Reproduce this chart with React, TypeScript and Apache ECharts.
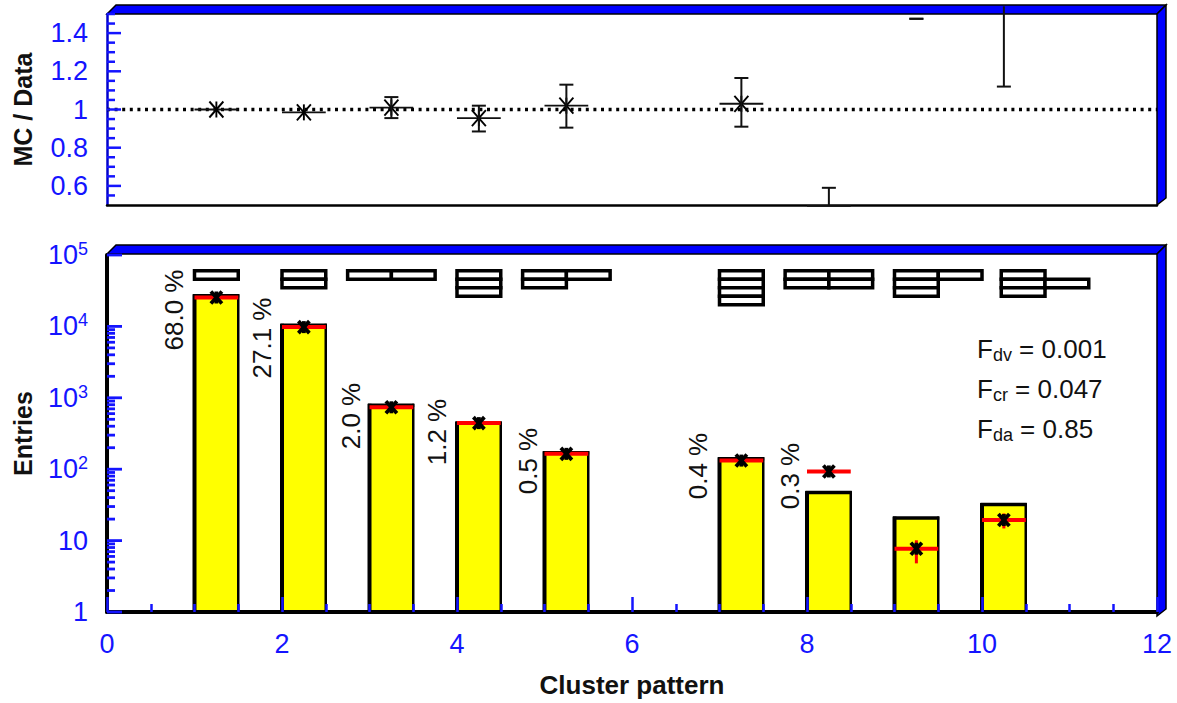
import React, { useEffect, useRef } from "react";
import * as echarts from "echarts";

// ---------- data ----------
const bins = [1, 2, 3, 4, 5, 7, 8, 9, 10];
const mcEntries = [26800, 10400, 785, 442, 170, 140, 47, 20.7, 32];
const dataEntries = [25400, 9770, 736, 442, 164, 132, 93, 7.7, 19.4];
const dataLow = [null, null, null, null, null, null, null, 4.8, 14.8];
const dataHigh = [null, null, null, null, null, null, null, 10.1, 24];

const ratioValues = [1.0, 0.985, 1.01, 0.955, 1.02, 1.03, 0.495, null, null];
const ratioLow = [null, null, 0.955, 0.885, 0.905, 0.91, null, 1.475, 1.12];
const ratioHigh = [null, null, 1.065, 1.02, 1.13, 1.165, 0.59, 1.475, 1.54];

const percentLabels = ["68.0 %", "27.1 %", "2.0 %", "1.2 %", "0.5 %", "0.4 %", "0.3 %"];
const fractionNames = ["dv", "cr", "da"];
const fractionValues = ["0.001", "0.047", "0.85"];

const ratioMajorTicks = [0.6, 0.8, 1.0, 1.2, 1.4];
const ratioMinorTicks = [0.55, 0.65, 0.7, 0.75, 0.85, 0.9, 0.95, 1.05, 1.1, 1.15, 1.25, 1.3, 1.35, 1.45, 1.5];
const logMajorTicks = [1, 10, 100, 1000, 10000, 100000];
const logMinorTicks = [10, 100, 1000, 10000].flatMap((d) =>
  [2, 3, 4, 5, 6, 7, 8, 9].map((m) => (m * d) / 10)
);

// pattern cells: [left edge of the pattern, column, row]
const patternCells = [
  [1, 0, 0],
  [2, 0, 0], [2, 0, 1],
  [2.75, 0, 0], [2.75, 1, 0],
  [4, 0, 0], [4, 0, 1], [4, 0, 2],
  [4.75, 0, 0], [4.75, 0, 1], [4.75, 1, 0],
  [7, 0, 0], [7, 0, 1], [7, 0, 2], [7, 0, 3],
  [7.75, 0, 0], [7.75, 0, 1], [7.75, 1, 0], [7.75, 1, 1],
  [9, 0, 0], [9, 0, 1], [9, 0, 2], [9, 1, 0],
  [10.22, 0, 0], [10.22, 0, 1], [10.22, 0, 2], [10.22, 1, 1],
];

// ---------- layout ----------
const W = 1177;
const H = 703;
const LEFT = 107;
const RIGHT = 1157;
const TOP1 = 14;
const BOT1 = 205;
const TOP2 = 255;
const BOT2 = 616;
const DEPTH_X = 9;
const DEPTH_Y = 9;
const DEPTH_END = 7;
const BIN_WIDTH = 0.5;
const PATTERN_TOP_VALUE = 60000;
const PATTERN_ROW = 8.5;
const BLUE = "#1414ff";
const FONT = '"Liberation Sans", Arial, sans-serif';
const percentPos = [
  [174, 310], [262, 338], [351, 416], [437, 432], [528, 461], [698, 466], [790, 476],
];
const fractionPos = [[977, 349], [977, 389], [977, 429]];

const line = (x1: number, y1: number, x2: number, y2: number, stroke: string, lineWidth: number) => ({
  type: "line",
  shape: { x1, y1, x2, y2 },
  style: { stroke, lineWidth },
});

const star = (cx: number, cy: number, rx: number, ry: number, lw: number) => [
  line(cx - rx, cy - ry, cx + rx, cy + ry, "#000", lw),
  line(cx - rx, cy + ry, cx + rx, cy - ry, "#000", lw),
  line(cx, cy - ry, cx, cy + ry, "#000", lw),
];

const tickSeries = (values: number[], idx: number, len: number, width: number) => ({
  type: "custom",
  xAxisIndex: idx,
  yAxisIndex: idx,
  silent: true,
  z: 8,
  data: values.map((v) => [0, v]),
  renderItem: (_p: any, api: any) => {
    const c = api.coord([0, api.value(1)]);
    return line(c[0], c[1], c[0] + len, c[1], BLUE, width);
  },
});

const frame3d = (top: number, bottom: number) => [
  {
    type: "polygon",
    shape: {
      points: [
        [LEFT, top],
        [LEFT + DEPTH_X, top - DEPTH_Y],
        [RIGHT + DEPTH_X, top - DEPTH_Y],
        [RIGHT, top],
      ],
    },
    style: { fill: "#0000ff", stroke: "#000", lineWidth: 1.5 },
  },
  {
    type: "polygon",
    shape: {
      points: [
        [RIGHT, top],
        [RIGHT + DEPTH_X, top - DEPTH_Y],
        [RIGHT + DEPTH_X, bottom - DEPTH_END],
        [RIGHT, bottom],
      ],
    },
    style: { fill: "#0000ff", stroke: "#000", lineWidth: 1.5 },
  },
];

function buildOption() {
  const graphics: any[] = [...frame3d(TOP1, BOT1), ...frame3d(TOP2 - 1, BOT2)];
  percentLabels.forEach((text, i) => {
    graphics.push({
      type: "text",
      x: percentPos[i][0],
      y: percentPos[i][1],
      rotation: Math.PI / 2,
      z: 20,
      style: {
        text,
        fill: "#111",
        font: `26px ${FONT}`,
        textAlign: "center",
        textVerticalAlign: "middle",
      },
    });
  });
  fractionNames.forEach((name, i) => {
    graphics.push({
      type: "text",
      x: fractionPos[i][0],
      y: fractionPos[i][1],
      z: 20,
      style: {
        text: `{f|F}{s|${name}}{f| = ${fractionValues[i]}}`,
        textVerticalAlign: "middle",
        rich: {
          f: { fontSize: 26, fontFamily: FONT, fill: "#111", color: "#111", lineHeight: 30 },
          s: {
            fontSize: 18,
            fontFamily: FONT,
            fill: "#111",
            color: "#111",
            verticalAlign: "bottom",
            lineHeight: 18,
            padding: [10, 0, 0, 0],
          },
        },
      },
    });
  });

  const labelBase = { color: BLUE, fontFamily: FONT, fontSize: 27 };
  const nameStyle = { color: "#111", fontFamily: FONT, fontWeight: "bold" as const, fontSize: 25 };

  return {
    animation: false,
    backgroundColor: "#fff",
    graphic: { elements: graphics },
    grid: [
      { left: LEFT, width: RIGHT - LEFT, top: TOP1, height: BOT1 - TOP1 },
      { left: LEFT, width: RIGHT - LEFT, top: TOP2, height: BOT2 - TOP2 },
    ],
    xAxis: [
      {
        type: "value",
        gridIndex: 0,
        min: 0,
        max: 12,
        interval: 2,
        splitLine: { show: false },
        axisLabel: { show: false },
        axisTick: { show: false },
        axisLine: { lineStyle: { color: "#000", width: 2.5 } },
      },
      {
        type: "value",
        gridIndex: 1,
        min: 0,
        max: 12,
        interval: 2,
        z: 6,
        splitLine: { show: false },
        name: "Cluster pattern",
        nameLocation: "middle",
        nameGap: 60,
        nameTextStyle: { ...nameStyle, fontSize: 26 },
        axisLabel: { ...labelBase, margin: 18, showMinLabel: true, showMaxLabel: true },
        axisTick: { show: true, inside: true, length: 15, lineStyle: { color: BLUE, width: 2.5 } },
        minorTick: { show: true, splitNumber: 4, length: 8, lineStyle: { color: BLUE, width: 2.5 } },
        axisLine: { lineStyle: { color: "#000", width: 4 } },
      },
    ],
    yAxis: [
      {
        type: "value",
        gridIndex: 0,
        min: 0.5,
        max: 1.5,
        interval: 0.1,
        splitLine: { show: false },
        name: "MC / Data",
        nameLocation: "middle",
        nameGap: 72,
        nameTextStyle: nameStyle,
        axisTick: { show: false },
        axisLine: { show: true, lineStyle: { color: "#0000cc", width: 2.5 } },
        axisLabel: {
          ...labelBase,
          margin: 19,
          showMinLabel: true,
          showMaxLabel: true,
          formatter: (v: number) => {
            const t = Math.round(v * 10);
            if (t % 2 !== 0) return "";
            return t === 10 ? "1" : (t / 10).toFixed(1);
          },
        },
      },
      {
        type: "log",
        logBase: 10,
        gridIndex: 1,
        min: 1,
        max: 100000,
        splitLine: { show: false },
        name: "Entries",
        nameLocation: "middle",
        nameGap: 72,
        nameTextStyle: nameStyle,
        axisTick: { show: false },
        minorTick: { show: false },
        axisLine: { show: true, lineStyle: { color: "#000", width: 4 } },
        axisLabel: {
          margin: 19,
          color: BLUE,
          showMinLabel: true,
          showMaxLabel: true,
          formatter: (v: number) => {
            const e = Math.round(Math.log10(v));
            if (e === 0) return "{a|1}";
            if (e === 1) return "{a|10}";
            return `{a|10}{b|${e}}`;
          },
          rich: {
            a: { ...labelBase },
            b: { color: BLUE, fontFamily: FONT, fontSize: 18, verticalAlign: "top", lineHeight: 30 },
          },
        },
      },
    ],
    series: [
      // reference line at 1
      {
        type: "line",
        xAxisIndex: 0,
        yAxisIndex: 0,
        symbol: "none",
        z: 2,
        silent: true,
        data: [[0, 1], [12, 1]],
        lineStyle: { color: "#000", width: 3.5, type: [3, 4.6], cap: "butt" },
      },
      // ratio: horizontal bin-width bars and stars
      {
        type: "custom",
        xAxisIndex: 0,
        yAxisIndex: 0,
        silent: true,
        z: 4,
        data: bins
          .map((b, i) => [b, ratioValues[i]])
          .filter((r) => r[1] !== null),
        renderItem: (_p: any, api: any) => {
          const b = api.value(0);
          const v = api.value(1);
          const a = api.coord([b, v]);
          const z = api.coord([b + BIN_WIDTH, v]);
          const c = api.coord([b + BIN_WIDTH / 2, v]);
          const children: any[] = [line(a[0], a[1], z[0], z[1], "#111", 1.8)];
          if (v > 0.5) children.push(...star(c[0], c[1], 7, 8, 1.9));
          return { type: "group", children };
        },
      },
      // ratio: error bars
      {
        type: "custom",
        xAxisIndex: 0,
        yAxisIndex: 0,
        silent: true,
        z: 4,
        data: bins
          .map((b, i) => [b + BIN_WIDTH / 2, ratioHigh[i], ratioLow[i] ?? ratioValues[i]])
          .filter((r) => r[1] !== null),
        renderItem: (_p: any, api: any) => {
          const x = api.value(0);
          const hi = api.value(1);
          const lo = api.value(2);
          const h = api.coord([x, hi]);
          const l = api.coord([x, lo]);
          const children: any[] = [line(h[0], h[1], l[0], l[1], "#111", 2)];
          if (hi <= 1.5) children.push(line(h[0] - 7, h[1], h[0] + 7, h[1], "#111", 2));
          if (lo > 0.5) children.push(line(l[0] - 7, l[1], l[0] + 7, l[1], "#111", 2));
          return { type: "group", children };
        },
      },
      tickSeries(ratioMajorTicks, 0, 14, 2.5),
      tickSeries(ratioMinorTicks, 0, 8, 2.5),
      // Monte Carlo histogram
      {
        type: "custom",
        xAxisIndex: 1,
        yAxisIndex: 1,
        silent: true,
        z: 3,
        data: bins.map((b, i) => [b, mcEntries[i]]),
        renderItem: (_p: any, api: any) => {
          const b = api.value(0);
          const v = api.value(1);
          const tl = api.coord([b, v]);
          const br = api.coord([b + BIN_WIDTH, 1]);
          return {
            type: "group",
            children: [
              {
                type: "rect",
                shape: { x: tl[0], y: tl[1], width: br[0] - tl[0], height: br[1] - tl[1] },
                style: { fill: "#ffff00" },
              },
              line(tl[0], tl[1] - 1.5, tl[0], br[1], "#000", 4),
              line(tl[0] - 1.5, tl[1], br[0] + 1, tl[1], "#000", 3.5),
              line(br[0], tl[1] - 1.5, br[0], br[1], "#000", 2.5),
            ],
          };
        },
      },
      // data: red bars and error bars
      {
        type: "custom",
        xAxisIndex: 1,
        yAxisIndex: 1,
        silent: true,
        z: 4,
        data: bins.map((b, i) => [b, dataEntries[i]]),
        renderItem: (_p: any, api: any) => {
          const b = api.value(0);
          const v = api.value(1);
          const a = api.coord([b, v]);
          const z = api.coord([b + BIN_WIDTH, v]);
          return line(a[0], a[1], z[0], z[1], "#ff0000", 4);
        },
      },
      {
        type: "custom",
        xAxisIndex: 1,
        yAxisIndex: 1,
        silent: true,
        z: 4,
        data: bins
          .map((b, i) => [b + BIN_WIDTH / 2, dataHigh[i], dataLow[i]])
          .filter((r) => r[1] !== null),
        renderItem: (_p: any, api: any) => {
          const x = api.value(0);
          const h = api.coord([x, api.value(1)]);
          const l = api.coord([x, api.value(2)]);
          return line(h[0], h[1], l[0], l[1], "#ff0000", 3);
        },
      },
      // data: stars
      {
        type: "custom",
        xAxisIndex: 1,
        yAxisIndex: 1,
        silent: true,
        z: 5,
        data: bins.map((b, i) => [b + BIN_WIDTH / 2, dataEntries[i]]),
        renderItem: (_p: any, api: any) => {
          const c = api.coord([api.value(0), api.value(1)]);
          return { type: "group", children: star(c[0], c[1], 5.5, 6, 3.8) };
        },
      },
      // cluster pattern icons
      {
        type: "custom",
        xAxisIndex: 1,
        yAxisIndex: 1,
        silent: true,
        z: 5,
        data: patternCells.map((c) => [c[0] + c[1] * BIN_WIDTH, PATTERN_TOP_VALUE, c[2]]),
        renderItem: (_p: any, api: any) => {
          const x = api.value(0);
          const tl = api.coord([x, api.value(1)]);
          const tr = api.coord([x + BIN_WIDTH, api.value(1)]);
          const row = api.value(2);
          return {
            type: "rect",
            shape: {
              x: tl[0],
              y: tl[1] + row * PATTERN_ROW,
              width: tr[0] - tl[0],
              height: PATTERN_ROW,
            },
            style: { fill: "#fff", stroke: "#000", lineWidth: 3.5 },
          };
        },
      },
      tickSeries(logMajorTicks, 1, 15, 2.8),
      tickSeries(logMinorTicks, 1, 8, 2.8),
    ],
  };
}

export default function App() {
  const ref = useRef<HTMLDivElement>(null);
  useEffect(() => {
    document.body.style.margin = "0";
    const chart = echarts.init(ref.current!, undefined, { renderer: "svg", width: W, height: H });
    chart.setOption(buildOption() as any);
    return () => chart.dispose();
  }, []);
  return <div ref={ref} style={{ width: W, height: H, background: "#fff" }} />;
}
